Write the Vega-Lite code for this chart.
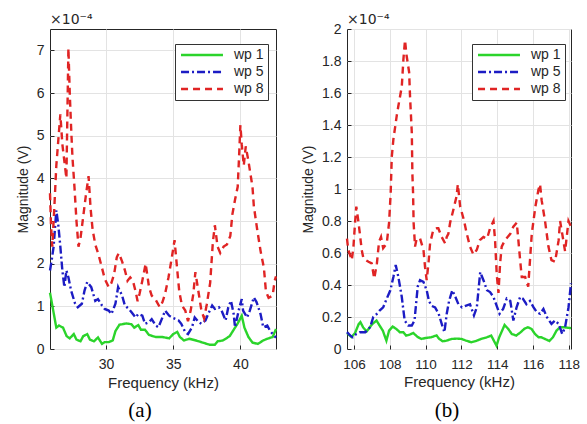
{
  "$schema": "https://vega.github.io/schema/vega-lite/v6.json",
  "padding": {"left": 15, "top": 12, "right": 5, "bottom": 0},
  "bounds": "flush",
  "spacing": 71,
  "background": "white",
  "config": {
    "view": {"stroke": "#262626", "strokeWidth": 1, "fill": "white"},
    "axis": {
      "labelFont": "Liberation Sans", "labelFontSize": 14, "labelColor": "#262626", "labelOverlap": false,
      "titleFont": "Liberation Sans", "titleFontSize": 14, "titleFontWeight": "normal", "titleColor": "#262626",
      "domain": false, "tickColor": "#262626", "tickSize": -4, "labelPadding": 10, "tickCount": 30,
      "grid": true, "gridColor": "#e3e3e3"
    },
    "axisY": {"titlePadding": 6},
    "axisX": {"titlePadding": 4, "labelPadding": 12, "titleFontSize": 15},
    "legend": {
      "symbolType": "M-4,0L4,0", "symbolSize": 110, "symbolStrokeWidth": 2.4, "symbolOffset": 16,
      "labelFont": "Liberation Sans", "labelFontSize": 14, "labelColor": "#262626",
      "strokeColor": "#333333", "fillColor": "white", "padding": 4, "rowPadding": 3,
      "labelOffset": 25
    }
  },
  "datasets": {
    "a": [
      {"f":25.83,"m":1.32,"s":"wp 1"},{"f":26.3,"m":0.5,"s":"wp 1"},{"f":26.5,"m":0.55,"s":"wp 1"},{"f":26.8,"m":0.5,"s":"wp 1"},{"f":27.07,"m":0.3,"s":"wp 1"},{"f":27.3,"m":0.25,"s":"wp 1"},{"f":27.6,"m":0.35,"s":"wp 1"},{"f":27.8,"m":0.22,"s":"wp 1"},{"f":28.1,"m":0.18,"s":"wp 1"},{"f":28.3,"m":0.3,"s":"wp 1"},{"f":28.6,"m":0.35,"s":"wp 1"},{"f":28.8,"m":0.22,"s":"wp 1"},{"f":29.1,"m":0.18,"s":"wp 1"},{"f":29.4,"m":0.27,"s":"wp 1"},{"f":29.7,"m":0.12,"s":"wp 1"},{"f":29.9,"m":0.16,"s":"wp 1"},{"f":30.2,"m":0.16,"s":"wp 1"},{"f":30.5,"m":0.2,"s":"wp 1"},{"f":30.7,"m":0.42,"s":"wp 1"},{"f":31.0,"m":0.57,"s":"wp 1"},{"f":31.2,"m":0.58,"s":"wp 1"},{"f":31.5,"m":0.6,"s":"wp 1"},{"f":31.9,"m":0.58,"s":"wp 1"},{"f":32.1,"m":0.5,"s":"wp 1"},{"f":32.4,"m":0.56,"s":"wp 1"},{"f":32.6,"m":0.45,"s":"wp 1"},{"f":32.9,"m":0.45,"s":"wp 1"},{"f":33.2,"m":0.33,"s":"wp 1"},{"f":33.7,"m":0.28,"s":"wp 1"},{"f":34.2,"m":0.28,"s":"wp 1"},{"f":34.7,"m":0.25,"s":"wp 1"},{"f":35.0,"m":0.35,"s":"wp 1"},{"f":35.3,"m":0.4,"s":"wp 1"},{"f":35.5,"m":0.28,"s":"wp 1"},{"f":35.8,"m":0.2,"s":"wp 1"},{"f":36.2,"m":0.24,"s":"wp 1"},{"f":36.7,"m":0.2,"s":"wp 1"},{"f":37.2,"m":0.15,"s":"wp 1"},{"f":37.7,"m":0.1,"s":"wp 1"},{"f":38.1,"m":0.1,"s":"wp 1"},{"f":38.3,"m":0.18,"s":"wp 1"},{"f":38.7,"m":0.2,"s":"wp 1"},{"f":39.2,"m":0.3,"s":"wp 1"},{"f":39.6,"m":0.5,"s":"wp 1"},{"f":39.8,"m":0.6,"s":"wp 1"},{"f":40.1,"m":0.78,"s":"wp 1"},{"f":40.3,"m":0.5,"s":"wp 1"},{"f":40.6,"m":0.28,"s":"wp 1"},{"f":40.9,"m":0.15,"s":"wp 1"},{"f":41.3,"m":0.12,"s":"wp 1"},{"f":41.7,"m":0.2,"s":"wp 1"},{"f":42.0,"m":0.24,"s":"wp 1"},{"f":42.4,"m":0.28,"s":"wp 1"},{"f":42.65,"m":0.47,"s":"wp 1"},
      {"f":25.83,"m":1.84,"s":"wp 5"},{"f":25.95,"m":2.07,"s":"wp 5"},{"f":26.1,"m":2.4,"s":"wp 5"},{"f":26.3,"m":3.25,"s":"wp 5"},{"f":26.45,"m":2.9,"s":"wp 5"},{"f":26.6,"m":2.4,"s":"wp 5"},{"f":26.75,"m":1.84,"s":"wp 5"},{"f":26.9,"m":1.45,"s":"wp 5"},{"f":27.05,"m":1.84,"s":"wp 5"},{"f":27.2,"m":1.68,"s":"wp 5"},{"f":27.4,"m":1.37,"s":"wp 5"},{"f":27.7,"m":1.06,"s":"wp 5"},{"f":27.9,"m":0.98,"s":"wp 5"},{"f":28.2,"m":1.06,"s":"wp 5"},{"f":28.4,"m":1.37,"s":"wp 5"},{"f":28.6,"m":1.57,"s":"wp 5"},{"f":28.9,"m":1.45,"s":"wp 5"},{"f":29.2,"m":1.13,"s":"wp 5"},{"f":29.4,"m":1.17,"s":"wp 5"},{"f":29.7,"m":1.02,"s":"wp 5"},{"f":29.9,"m":0.94,"s":"wp 5"},{"f":30.2,"m":0.9,"s":"wp 5"},{"f":30.4,"m":0.82,"s":"wp 5"},{"f":30.7,"m":1.06,"s":"wp 5"},{"f":30.9,"m":1.45,"s":"wp 5"},{"f":31.2,"m":1.25,"s":"wp 5"},{"f":31.4,"m":1.02,"s":"wp 5"},{"f":31.7,"m":0.94,"s":"wp 5"},{"f":31.9,"m":0.86,"s":"wp 5"},{"f":32.2,"m":0.74,"s":"wp 5"},{"f":32.4,"m":0.82,"s":"wp 5"},{"f":32.7,"m":0.78,"s":"wp 5"},{"f":32.9,"m":0.59,"s":"wp 5"},{"f":33.2,"m":0.63,"s":"wp 5"},{"f":33.4,"m":0.7,"s":"wp 5"},{"f":33.7,"m":0.55,"s":"wp 5"},{"f":33.9,"m":0.51,"s":"wp 5"},{"f":34.2,"m":0.74,"s":"wp 5"},{"f":34.4,"m":0.9,"s":"wp 5"},{"f":34.7,"m":0.78,"s":"wp 5"},{"f":34.9,"m":0.74,"s":"wp 5"},{"f":35.2,"m":0.7,"s":"wp 5"},{"f":35.4,"m":0.67,"s":"wp 5"},{"f":35.6,"m":0.59,"s":"wp 5"},{"f":35.9,"m":0.39,"s":"wp 5"},{"f":36.1,"m":0.35,"s":"wp 5"},{"f":36.4,"m":0.51,"s":"wp 5"},{"f":36.6,"m":0.74,"s":"wp 5"},{"f":36.9,"m":0.63,"s":"wp 5"},{"f":37.1,"m":0.59,"s":"wp 5"},{"f":37.4,"m":0.67,"s":"wp 5"},{"f":37.6,"m":0.82,"s":"wp 5"},{"f":37.9,"m":1.02,"s":"wp 5"},{"f":38.1,"m":0.94,"s":"wp 5"},{"f":38.4,"m":0.98,"s":"wp 5"},{"f":38.6,"m":0.9,"s":"wp 5"},{"f":38.9,"m":0.67,"s":"wp 5"},{"f":39.1,"m":0.98,"s":"wp 5"},{"f":39.3,"m":1.13,"s":"wp 5"},{"f":39.5,"m":0.82,"s":"wp 5"},{"f":39.6,"m":0.51,"s":"wp 5"},{"f":39.9,"m":0.94,"s":"wp 5"},{"f":40.1,"m":1.17,"s":"wp 5"},{"f":40.2,"m":0.9,"s":"wp 5"},{"f":40.5,"m":0.74,"s":"wp 5"},{"f":40.7,"m":0.9,"s":"wp 5"},{"f":41.0,"m":1.21,"s":"wp 5"},{"f":41.2,"m":1.1,"s":"wp 5"},{"f":41.5,"m":0.82,"s":"wp 5"},{"f":41.7,"m":0.51,"s":"wp 5"},{"f":42.0,"m":0.55,"s":"wp 5"},{"f":42.2,"m":0.43,"s":"wp 5"},{"f":42.5,"m":0.31,"s":"wp 5"},{"f":42.65,"m":0.27,"s":"wp 5"},
      {"f":25.83,"m":3.65,"s":"wp 8"},{"f":25.9,"m":2.95,"s":"wp 8"},{"f":26.0,"m":2.4,"s":"wp 8"},{"f":26.15,"m":3.3,"s":"wp 8"},{"f":26.3,"m":4.3,"s":"wp 8"},{"f":26.45,"m":4.9,"s":"wp 8"},{"f":26.6,"m":5.5,"s":"wp 8"},{"f":26.75,"m":4.8,"s":"wp 8"},{"f":26.9,"m":4.4,"s":"wp 8"},{"f":27.05,"m":4.0,"s":"wp 8"},{"f":27.2,"m":7.05,"s":"wp 8"},{"f":27.3,"m":6.0,"s":"wp 8"},{"f":27.4,"m":5.2,"s":"wp 8"},{"f":27.5,"m":4.5,"s":"wp 8"},{"f":27.65,"m":3.8,"s":"wp 8"},{"f":27.8,"m":3.0,"s":"wp 8"},{"f":27.95,"m":2.4,"s":"wp 8"},{"f":28.1,"m":2.6,"s":"wp 8"},{"f":28.3,"m":3.1,"s":"wp 8"},{"f":28.5,"m":3.6,"s":"wp 8"},{"f":28.7,"m":4.05,"s":"wp 8"},{"f":28.85,"m":3.3,"s":"wp 8"},{"f":29.0,"m":2.8,"s":"wp 8"},{"f":29.2,"m":2.45,"s":"wp 8"},{"f":29.45,"m":2.2,"s":"wp 8"},{"f":29.7,"m":1.9,"s":"wp 8"},{"f":29.9,"m":1.65,"s":"wp 8"},{"f":30.2,"m":1.45,"s":"wp 8"},{"f":30.4,"m":1.55,"s":"wp 8"},{"f":30.6,"m":1.75,"s":"wp 8"},{"f":30.8,"m":2.15,"s":"wp 8"},{"f":30.95,"m":2.25,"s":"wp 8"},{"f":31.2,"m":2.05,"s":"wp 8"},{"f":31.4,"m":1.85,"s":"wp 8"},{"f":31.6,"m":1.6,"s":"wp 8"},{"f":31.8,"m":1.68,"s":"wp 8"},{"f":32.0,"m":1.6,"s":"wp 8"},{"f":32.2,"m":1.35,"s":"wp 8"},{"f":32.35,"m":1.12,"s":"wp 8"},{"f":32.5,"m":1.3,"s":"wp 8"},{"f":32.7,"m":1.6,"s":"wp 8"},{"f":32.95,"m":2.0,"s":"wp 8"},{"f":33.2,"m":1.45,"s":"wp 8"},{"f":33.4,"m":1.25,"s":"wp 8"},{"f":33.7,"m":1.15,"s":"wp 8"},{"f":34.0,"m":0.98,"s":"wp 8"},{"f":34.2,"m":1.1,"s":"wp 8"},{"f":34.4,"m":1.3,"s":"wp 8"},{"f":34.65,"m":1.68,"s":"wp 8"},{"f":34.9,"m":2.15,"s":"wp 8"},{"f":35.1,"m":2.55,"s":"wp 8"},{"f":35.3,"m":1.85,"s":"wp 8"},{"f":35.45,"m":1.35,"s":"wp 8"},{"f":35.65,"m":1.02,"s":"wp 8"},{"f":35.9,"m":0.9,"s":"wp 8"},{"f":36.1,"m":0.65,"s":"wp 8"},{"f":36.3,"m":0.9,"s":"wp 8"},{"f":36.5,"m":1.3,"s":"wp 8"},{"f":36.65,"m":1.8,"s":"wp 8"},{"f":36.9,"m":1.3,"s":"wp 8"},{"f":37.1,"m":0.9,"s":"wp 8"},{"f":37.3,"m":0.72,"s":"wp 8"},{"f":37.5,"m":1.05,"s":"wp 8"},{"f":37.75,"m":1.55,"s":"wp 8"},{"f":37.95,"m":2.5,"s":"wp 8"},{"f":38.1,"m":2.9,"s":"wp 8"},{"f":38.3,"m":2.4,"s":"wp 8"},{"f":38.5,"m":2.25,"s":"wp 8"},{"f":38.75,"m":2.4,"s":"wp 8"},{"f":39.0,"m":2.45,"s":"wp 8"},{"f":39.25,"m":2.65,"s":"wp 8"},{"f":39.4,"m":3.15,"s":"wp 8"},{"f":39.6,"m":3.5,"s":"wp 8"},{"f":39.8,"m":3.8,"s":"wp 8"},{"f":39.9,"m":4.5,"s":"wp 8"},{"f":40.0,"m":5.25,"s":"wp 8"},{"f":40.1,"m":4.8,"s":"wp 8"},{"f":40.25,"m":4.3,"s":"wp 8"},{"f":40.4,"m":4.75,"s":"wp 8"},{"f":40.6,"m":4.4,"s":"wp 8"},{"f":40.75,"m":4.1,"s":"wp 8"},{"f":40.9,"m":3.8,"s":"wp 8"},{"f":41.0,"m":3.35,"s":"wp 8"},{"f":41.25,"m":2.8,"s":"wp 8"},{"f":41.5,"m":2.3,"s":"wp 8"},{"f":41.75,"m":1.9,"s":"wp 8"},{"f":41.9,"m":1.35,"s":"wp 8"},{"f":42.1,"m":1.2,"s":"wp 8"},{"f":42.4,"m":1.25,"s":"wp 8"},{"f":42.55,"m":1.6,"s":"wp 8"},{"f":42.65,"m":1.7,"s":"wp 8"}
    ],
    "b": [
      {"f":105.61,"m":0.1,"s":"wp 1"},{"f":105.86,"m":0.075,"s":"wp 1"},{"f":106.06,"m":0.1,"s":"wp 1"},{"f":106.26,"m":0.155,"s":"wp 1"},{"f":106.36,"m":0.168,"s":"wp 1"},{"f":106.51,"m":0.135,"s":"wp 1"},{"f":106.71,"m":0.11,"s":"wp 1"},{"f":107.01,"m":0.155,"s":"wp 1"},{"f":107.26,"m":0.178,"s":"wp 1"},{"f":107.41,"m":0.15,"s":"wp 1"},{"f":107.61,"m":0.115,"s":"wp 1"},{"f":107.81,"m":0.052,"s":"wp 1"},{"f":107.96,"m":0.115,"s":"wp 1"},{"f":108.16,"m":0.14,"s":"wp 1"},{"f":108.36,"m":0.126,"s":"wp 1"},{"f":108.56,"m":0.105,"s":"wp 1"},{"f":108.76,"m":0.105,"s":"wp 1"},{"f":108.91,"m":0.084,"s":"wp 1"},{"f":109.11,"m":0.09,"s":"wp 1"},{"f":109.31,"m":0.1,"s":"wp 1"},{"f":109.56,"m":0.075,"s":"wp 1"},{"f":109.76,"m":0.063,"s":"wp 1"},{"f":110.01,"m":0.069,"s":"wp 1"},{"f":110.31,"m":0.073,"s":"wp 1"},{"f":110.61,"m":0.085,"s":"wp 1"},{"f":110.76,"m":0.063,"s":"wp 1"},{"f":110.96,"m":0.048,"s":"wp 1"},{"f":111.16,"m":0.052,"s":"wp 1"},{"f":111.46,"m":0.063,"s":"wp 1"},{"f":111.76,"m":0.065,"s":"wp 1"},{"f":112.01,"m":0.063,"s":"wp 1"},{"f":112.26,"m":0.052,"s":"wp 1"},{"f":112.56,"m":0.042,"s":"wp 1"},{"f":112.86,"m":0.052,"s":"wp 1"},{"f":113.11,"m":0.063,"s":"wp 1"},{"f":113.41,"m":0.073,"s":"wp 1"},{"f":113.66,"m":0.084,"s":"wp 1"},{"f":113.96,"m":0.021,"s":"wp 1"},{"f":114.11,"m":0.073,"s":"wp 1"},{"f":114.41,"m":0.15,"s":"wp 1"},{"f":114.61,"m":0.126,"s":"wp 1"},{"f":114.81,"m":0.094,"s":"wp 1"},{"f":115.06,"m":0.084,"s":"wp 1"},{"f":115.31,"m":0.105,"s":"wp 1"},{"f":115.51,"m":0.126,"s":"wp 1"},{"f":115.71,"m":0.136,"s":"wp 1"},{"f":115.91,"m":0.126,"s":"wp 1"},{"f":116.11,"m":0.094,"s":"wp 1"},{"f":116.31,"m":0.073,"s":"wp 1"},{"f":116.46,"m":0.073,"s":"wp 1"},{"f":116.66,"m":0.063,"s":"wp 1"},{"f":116.91,"m":0.05,"s":"wp 1"},{"f":117.11,"m":0.073,"s":"wp 1"},{"f":117.31,"m":0.115,"s":"wp 1"},{"f":117.51,"m":0.136,"s":"wp 1"},{"f":117.76,"m":0.136,"s":"wp 1"},{"f":118.12,"m":0.13,"s":"wp 1"},
      {"f":105.61,"m":0.105,"s":"wp 5"},{"f":105.78,"m":0.085,"s":"wp 5"},{"f":105.93,"m":0.073,"s":"wp 5"},{"f":106.13,"m":0.094,"s":"wp 5"},{"f":106.33,"m":0.105,"s":"wp 5"},{"f":106.63,"m":0.105,"s":"wp 5"},{"f":106.9,"m":0.136,"s":"wp 5"},{"f":107.08,"m":0.2,"s":"wp 5"},{"f":107.28,"m":0.22,"s":"wp 5"},{"f":107.43,"m":0.24,"s":"wp 5"},{"f":107.63,"m":0.26,"s":"wp 5"},{"f":107.83,"m":0.315,"s":"wp 5"},{"f":108.03,"m":0.367,"s":"wp 5"},{"f":108.2,"m":0.45,"s":"wp 5"},{"f":108.33,"m":0.525,"s":"wp 5"},{"f":108.48,"m":0.45,"s":"wp 5"},{"f":108.67,"m":0.325,"s":"wp 5"},{"f":108.83,"m":0.178,"s":"wp 5"},{"f":109.03,"m":0.147,"s":"wp 5"},{"f":109.23,"m":0.147,"s":"wp 5"},{"f":109.38,"m":0.178,"s":"wp 5"},{"f":109.56,"m":0.39,"s":"wp 5"},{"f":109.69,"m":0.43,"s":"wp 5"},{"f":109.88,"m":0.42,"s":"wp 5"},{"f":110.06,"m":0.367,"s":"wp 5"},{"f":110.19,"m":0.3,"s":"wp 5"},{"f":110.33,"m":0.27,"s":"wp 5"},{"f":110.53,"m":0.26,"s":"wp 5"},{"f":110.73,"m":0.22,"s":"wp 5"},{"f":110.9,"m":0.157,"s":"wp 5"},{"f":111.05,"m":0.105,"s":"wp 5"},{"f":111.18,"m":0.22,"s":"wp 5"},{"f":111.31,"m":0.3,"s":"wp 5"},{"f":111.49,"m":0.367,"s":"wp 5"},{"f":111.63,"m":0.335,"s":"wp 5"},{"f":111.83,"m":0.28,"s":"wp 5"},{"f":112.03,"m":0.26,"s":"wp 5"},{"f":112.23,"m":0.27,"s":"wp 5"},{"f":112.48,"m":0.28,"s":"wp 5"},{"f":112.7,"m":0.21,"s":"wp 5"},{"f":112.86,"m":0.26,"s":"wp 5"},{"f":113.05,"m":0.48,"s":"wp 5"},{"f":113.23,"m":0.43,"s":"wp 5"},{"f":113.43,"m":0.367,"s":"wp 5"},{"f":113.6,"m":0.356,"s":"wp 5"},{"f":113.79,"m":0.325,"s":"wp 5"},{"f":113.97,"m":0.27,"s":"wp 5"},{"f":114.13,"m":0.22,"s":"wp 5"},{"f":114.33,"m":0.25,"s":"wp 5"},{"f":114.53,"m":0.315,"s":"wp 5"},{"f":114.73,"m":0.3,"s":"wp 5"},{"f":114.9,"m":0.178,"s":"wp 5"},{"f":115.08,"m":0.26,"s":"wp 5"},{"f":115.28,"m":0.325,"s":"wp 5"},{"f":115.43,"m":0.315,"s":"wp 5"},{"f":115.63,"m":0.28,"s":"wp 5"},{"f":115.83,"m":0.3,"s":"wp 5"},{"f":116.03,"m":0.26,"s":"wp 5"},{"f":116.21,"m":0.23,"s":"wp 5"},{"f":116.39,"m":0.22,"s":"wp 5"},{"f":116.58,"m":0.25,"s":"wp 5"},{"f":116.77,"m":0.2,"s":"wp 5"},{"f":117.03,"m":0.157,"s":"wp 5"},{"f":117.23,"m":0.178,"s":"wp 5"},{"f":117.43,"m":0.157,"s":"wp 5"},{"f":117.63,"m":0.094,"s":"wp 5"},{"f":117.79,"m":0.136,"s":"wp 5"},{"f":117.98,"m":0.26,"s":"wp 5"},{"f":118.12,"m":0.41,"s":"wp 5"},
      {"f":105.61,"m":0.69,"s":"wp 8"},{"f":105.68,"m":0.62,"s":"wp 8"},{"f":105.88,"m":0.555,"s":"wp 8"},{"f":105.97,"m":0.64,"s":"wp 8"},{"f":106.06,"m":0.79,"s":"wp 8"},{"f":106.13,"m":0.89,"s":"wp 8"},{"f":106.23,"m":0.81,"s":"wp 8"},{"f":106.33,"m":0.72,"s":"wp 8"},{"f":106.43,"m":0.62,"s":"wp 8"},{"f":106.53,"m":0.565,"s":"wp 8"},{"f":106.81,"m":0.545,"s":"wp 8"},{"f":106.99,"m":0.535,"s":"wp 8"},{"f":107.13,"m":0.44,"s":"wp 8"},{"f":107.28,"m":0.535,"s":"wp 8"},{"f":107.4,"m":0.67,"s":"wp 8"},{"f":107.51,"m":0.7,"s":"wp 8"},{"f":107.63,"m":0.63,"s":"wp 8"},{"f":107.83,"m":0.66,"s":"wp 8"},{"f":107.96,"m":0.79,"s":"wp 8"},{"f":108.05,"m":0.975,"s":"wp 8"},{"f":108.11,"m":1.2,"s":"wp 8"},{"f":108.2,"m":1.31,"s":"wp 8"},{"f":108.39,"m":1.46,"s":"wp 8"},{"f":108.48,"m":1.52,"s":"wp 8"},{"f":108.67,"m":1.64,"s":"wp 8"},{"f":108.76,"m":1.81,"s":"wp 8"},{"f":108.85,"m":1.93,"s":"wp 8"},{"f":108.93,"m":1.84,"s":"wp 8"},{"f":109.08,"m":1.73,"s":"wp 8"},{"f":109.13,"m":1.58,"s":"wp 8"},{"f":109.23,"m":1.35,"s":"wp 8"},{"f":109.26,"m":1.1,"s":"wp 8"},{"f":109.3,"m":0.975,"s":"wp 8"},{"f":109.33,"m":0.79,"s":"wp 8"},{"f":109.41,"m":0.64,"s":"wp 8"},{"f":109.5,"m":0.69,"s":"wp 8"},{"f":109.69,"m":0.69,"s":"wp 8"},{"f":109.88,"m":0.62,"s":"wp 8"},{"f":109.97,"m":0.51,"s":"wp 8"},{"f":110.06,"m":0.43,"s":"wp 8"},{"f":110.16,"m":0.535,"s":"wp 8"},{"f":110.25,"m":0.66,"s":"wp 8"},{"f":110.43,"m":0.745,"s":"wp 8"},{"f":110.63,"m":0.755,"s":"wp 8"},{"f":110.71,"m":0.755,"s":"wp 8"},{"f":110.9,"m":0.7,"s":"wp 8"},{"f":111.09,"m":0.66,"s":"wp 8"},{"f":111.18,"m":0.7,"s":"wp 8"},{"f":111.27,"m":0.72,"s":"wp 8"},{"f":111.37,"m":0.79,"s":"wp 8"},{"f":111.55,"m":0.87,"s":"wp 8"},{"f":111.73,"m":0.955,"s":"wp 8"},{"f":111.8,"m":1.03,"s":"wp 8"},{"f":111.93,"m":0.89,"s":"wp 8"},{"f":112.13,"m":0.81,"s":"wp 8"},{"f":112.3,"m":0.72,"s":"wp 8"},{"f":112.48,"m":0.64,"s":"wp 8"},{"f":112.67,"m":0.59,"s":"wp 8"},{"f":112.86,"m":0.62,"s":"wp 8"},{"f":113.03,"m":0.68,"s":"wp 8"},{"f":113.23,"m":0.7,"s":"wp 8"},{"f":113.43,"m":0.69,"s":"wp 8"},{"f":113.6,"m":0.755,"s":"wp 8"},{"f":113.79,"m":0.8,"s":"wp 8"},{"f":113.88,"m":0.68,"s":"wp 8"},{"f":113.97,"m":0.47,"s":"wp 8"},{"f":114.07,"m":0.35,"s":"wp 8"},{"f":114.16,"m":0.535,"s":"wp 8"},{"f":114.25,"m":0.64,"s":"wp 8"},{"f":114.43,"m":0.68,"s":"wp 8"},{"f":114.73,"m":0.72,"s":"wp 8"},{"f":114.9,"m":0.765,"s":"wp 8"},{"f":115.09,"m":0.79,"s":"wp 8"},{"f":115.18,"m":0.68,"s":"wp 8"},{"f":115.28,"m":0.555,"s":"wp 8"},{"f":115.37,"m":0.45,"s":"wp 8"},{"f":115.56,"m":0.45,"s":"wp 8"},{"f":115.73,"m":0.39,"s":"wp 8"},{"f":115.83,"m":0.555,"s":"wp 8"},{"f":115.93,"m":0.72,"s":"wp 8"},{"f":116.13,"m":0.89,"s":"wp 8"},{"f":116.3,"m":0.995,"s":"wp 8"},{"f":116.39,"m":1.03,"s":"wp 8"},{"f":116.48,"m":0.93,"s":"wp 8"},{"f":116.67,"m":0.8,"s":"wp 8"},{"f":116.86,"m":0.64,"s":"wp 8"},{"f":117.03,"m":0.555,"s":"wp 8"},{"f":117.23,"m":0.545,"s":"wp 8"},{"f":117.43,"m":0.68,"s":"wp 8"},{"f":117.51,"m":0.8,"s":"wp 8"},{"f":117.63,"m":0.72,"s":"wp 8"},{"f":117.79,"m":0.61,"s":"wp 8"},{"f":117.98,"m":0.8,"s":"wp 8"},{"f":118.12,"m":0.765,"s":"wp 8"}
    ]
  },
  "hconcat": [
    {
      "width": 226, "height": 320,
      "title": {"text": "(a)", "orient": "bottom", "font": "Liberation Serif", "fontSize": 21, "fontWeight": "normal", "color": "#000000", "dx": -23, "offset": 10},
      "layer": [
        {
          "data": {"name": "a"},
          "mark": {"type": "line", "strokeWidth": 2.4},
          "encoding": {
            "x": {"field": "f", "type": "quantitative", "scale": {"domain": [25.83, 42.65], "nice": false, "zero": false}, "axis": {"values": [30, 35, 40], "format": "~g", "tickCount": 30, "labelOverlap": false, "title": "Frequency (kHz)"}},
            "y": {"field": "m", "type": "quantitative", "scale": {"domain": [0, 7.5], "nice": false}, "axis": {"values": [0, 1, 2, 3, 4, 5, 6, 7], "format": "~g", "tickCount": 30, "labelOverlap": false, "title": "Magnitude (V)"}},
            "color": {"field": "s", "type": "nominal", "scale": {"domain": ["wp 1", "wp 5", "wp 8"], "range": ["#2bd42b", "#1c1cc4", "#e02424"]}, "legend": {"orient": "none", "legendX": 125, "legendY": 15, "title": null}},
            "strokeDash": {"field": "s", "type": "nominal", "scale": {"domain": ["wp 1", "wp 5", "wp 8"], "range": [[1, 0], [8, 3, 2, 3], [7, 5]]}, "legend": {"orient": "none", "legendX": 125, "legendY": 15, "title": null}}
          }
        },
        {
          "data": {"values": [{"t": "×10⁻⁴"}]},
          "mark": {"type": "text", "align": "left", "baseline": "bottom", "dy": -2, "fontSize": 14, "font": "DejaVu Sans", "color": "#262626"},
          "encoding": {"x": {"datum": 25.83}, "y": {"datum": 7.5}, "text": {"field": "t"}}
        }
      ]
    },
    {
      "width": 224, "height": 320,
      "title": {"text": "(b)", "orient": "bottom", "font": "Liberation Serif", "fontSize": 21, "fontWeight": "normal", "color": "#000000", "dx": -12, "offset": 10},
      "layer": [
        {
          "data": {"name": "b"},
          "mark": {"type": "line", "strokeWidth": 2.4},
          "encoding": {
            "x": {"field": "f", "type": "quantitative", "scale": {"domain": [105.61, 118.12], "nice": false, "zero": false}, "axis": {"values": [106, 108, 110, 112, 114, 116, 118], "format": "~g", "tickCount": 30, "labelOverlap": false, "labelFontSize": 13.5, "title": "Frequency (kHz)"}},
            "y": {"field": "m", "type": "quantitative", "scale": {"domain": [0, 2], "nice": false}, "axis": {"values": [0, 0.2, 0.4, 0.6, 0.8, 1, 1.2, 1.4, 1.6, 1.8, 2], "tickCount": 30, "labelOverlap": false, "format": "~g", "title": "Magnitude (V)"}},
            "color": {"field": "s", "type": "nominal", "scale": {"domain": ["wp 1", "wp 5", "wp 8"], "range": ["#2bd42b", "#1c1cc4", "#e02424"]}, "legend": {"orient": "none", "legendX": 125, "legendY": 15, "title": null}},
            "strokeDash": {"field": "s", "type": "nominal", "scale": {"domain": ["wp 1", "wp 5", "wp 8"], "range": [[1, 0], [8, 3, 2, 3], [7, 5]]}, "legend": {"orient": "none", "legendX": 125, "legendY": 15, "title": null}}
          }
        },
        {
          "data": {"values": [{"t": "×10⁻⁴"}]},
          "mark": {"type": "text", "align": "left", "baseline": "bottom", "dy": -2, "fontSize": 14, "font": "DejaVu Sans", "color": "#262626"},
          "encoding": {"x": {"datum": 105.61}, "y": {"datum": 2}, "text": {"field": "t"}}
        }
      ]
    }
  ],
  "resolve": {
    "scale": {"color": "independent", "strokeDash": "independent"},
    "legend": {"color": "independent", "strokeDash": "independent"}
  }
}
